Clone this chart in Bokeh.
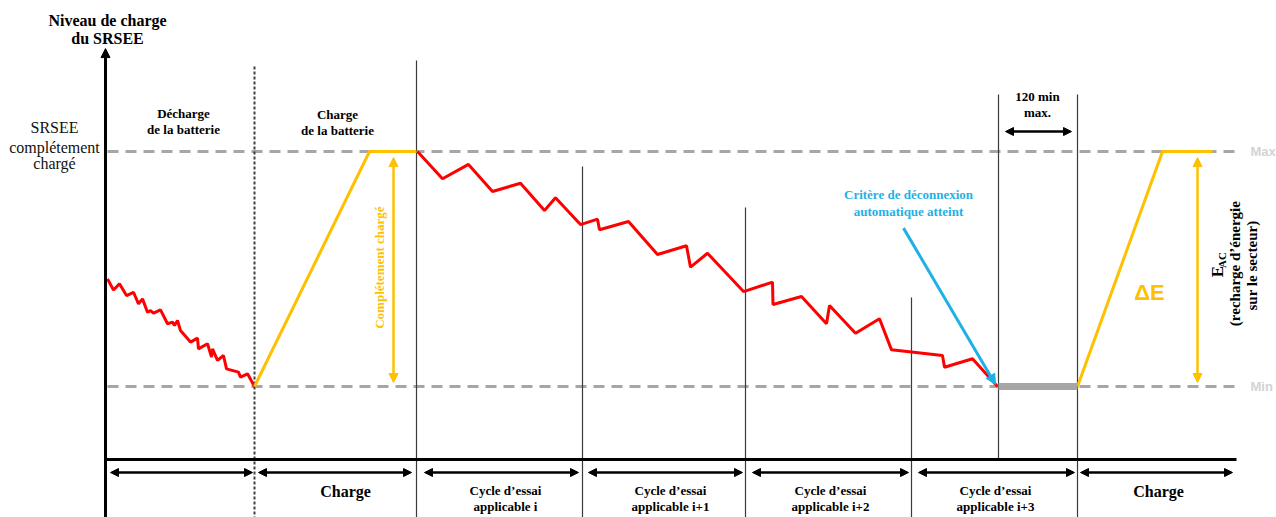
import math
from bokeh.plotting import figure
from bokeh.models import Range1d, ColumnDataSource, Arrow, NormalHead
from bokeh.core.properties import value
from bokeh.embed import file_html
from bokeh.resources import INLINE

# ---------------- data (time in arbitrary units, level: Min = 0, Max = 100) -------------
disch_t = [107, 113, 119, 126, 133, 138, 142, 147, 150, 153, 160, 167, 172, 174, 177, 180,
           190, 197, 198, 207, 211, 212, 217, 223, 226, 238, 240, 247, 254]
disch_lvl = [45.8, 41.1, 43.7, 38.7, 40.1, 35.2, 37.3, 31.6, 32.3, 31.2, 32.6, 26.7, 27.4, 26.0,
             28.1, 23.8, 18.9, 20.6, 16.0, 18.2, 12.5, 16.0, 11.1, 13.2, 7.5, 6.1, 4.0, 5.4, 0]

charge1_t = [254, 369, 416]
charge1_lvl = [0, 100, 100]

cycle_t = [417, 442, 468, 492, 520, 544, 555, 580, 597, 599, 628, 657, 686, 690, 707, 743,
           772, 772.5, 801, 826, 829, 855, 879, 891, 942, 944, 972, 997]
cycle_lvl = [100, 88.4, 94.5, 83.0, 86.5, 74.9, 80.3, 68.9, 71.2, 66.7, 70.2, 56.2, 59.9, 50.8,
             56.7, 40.4, 44.4, 34.9, 38.3, 26.7, 34.5, 22.7, 28.8, 15.6, 13.2, 8.2, 11.8, 0]

wait_t = [998, 1077]
wait_lvl = [0, 0]

charge2_t = [1077, 1162, 1212]
charge2_lvl = [0, 100, 100]

ref_levels = [0, 100]
ref_names = ["Min", "Max"]

boundary_t = [416, 582, 745, 911, 998, 1077]
boundary_top = [138.7, 93.6, 76.2, 37.9, 124.3, 124.3]
boundary_bottom = [-56, -56, -56, -56, -31.1, -56]

phase_start = [110, 258, 424, 588, 752, 918, 1080]
phase_end = [252, 411, 578, 742, 908, 1074, 1232]
phase_center = [181, 345, 505, 670, 830, 995, 1158]
phase_line1 = ["", "", "Cycle d’essai", "Cycle d’essai", "Cycle d’essai", "Cycle d’essai", ""]
phase_line2 = ["", "", "applicable i", "applicable i+1", "applicable i+2", "applicable i+3", ""]
phase_single = ["", "Charge", "", "", "", "", "Charge"]

# ---------------- colours ----------------
RED = "#FF0000"
ORANGE = "#FFC000"
BLUE = "#1FB0E6"
GREY = "#A6A6A6"
SERIF = value("Liberation Serif")
SANS = value("Liberation Sans")

p = figure(width=1276, height=517, x_range=Range1d(0, 1276), y_range=Range1d(-55.74, 164.26),
           output_backend="svg", toolbar_location=None, min_border=0,
           x_axis_location=None, y_axis_location=None)
p.grid.visible = False
p.outline_line_color = None
p.background_fill_color = "white"

# reference dashed lines Min / Max
for lv in ref_levels:
    p.line([107, 1236], [lv, lv], line_color=GREY, line_width=3, line_dash="11 7")
p.text(x=[1250, 1250], y=ref_levels, text=ref_names, text_font=SANS,
       text_font_style=value("bold"), text_font_size=value("13px"), text_color="#D3D3D3",
       text_align="left", text_baseline="middle")

# phase boundaries
p.segment(x0=[254], y0=[136.2], x1=[254], y1=[-56], line_color="#404040", line_width=2,
          line_dash="3 2")
p.segment(x0=boundary_t, y0=boundary_top, x1=boundary_t, y1=boundary_bottom,
          line_color="#3a3a3a", line_width=1.2)

# axes
p.segment(x0=[105], y0=[-31.1], x1=[1236], y1=[-31.1], line_color="black", line_width=3)
p.add_layout(Arrow(x_start=105, y_start=-58, x_end=105, y_end=143.8, line_color="black",
                   line_width=3, end=NormalHead(size=9, fill_color="black", line_color="black")))

# curves
p.line(disch_t, disch_lvl, line_color=RED, line_width=3)
p.line(cycle_t, cycle_lvl, line_color=RED, line_width=3)
p.line(charge1_t, charge1_lvl, line_color=ORANGE, line_width=3)
p.line(charge2_t, charge2_lvl, line_color=ORANGE, line_width=3)
p.line(wait_t, wait_lvl, line_color=GREY, line_width=7)

# phase arrows along the time axis
arr_src = ColumnDataSource(dict(x0=phase_start, x1=phase_end, y=[-36.6] * len(phase_start)))
p.add_layout(Arrow(source=arr_src, x_start="x0", y_start="y", x_end="x1", y_end="y",
                   line_color="black", line_width=2.5,
                   start=NormalHead(size=8, fill_color="black", line_color="black"),
                   end=NormalHead(size=8, fill_color="black", line_color="black")))

bold = value("bold")
p.text(x=phase_center, y=[-44.7] * 7, text=phase_single, text_font=SERIF, text_font_style=bold,
       text_font_size=value("16px"), text_color="black", text_align="center",
       text_baseline="middle")
p.text(x=phase_center, y=[-44.3] * 7, text=phase_line1, text_font=SERIF, text_font_style=bold,
       text_font_size=value("13px"), text_color="black", text_align="center",
       text_baseline="middle")
p.text(x=phase_center, y=[-51.1] * 7, text=phase_line2, text_font=SERIF, text_font_style=bold,
       text_font_size=value("13px"), text_color="black", text_align="center",
       text_baseline="middle")

# title of vertical axis
p.text(x=[107, 107], y=[155.7, 148.1], text=["Niveau de charge", "du SRSEE"], text_font=SERIF,
       text_font_style=bold, text_font_size=value("16px"), text_color="black",
       text_align="center", text_baseline="middle")
p.text(x=[54, 54, 54], y=[110.2, 101.7, 94.9], text=["SRSEE", "complétement", "chargé"],
       text_font=SERIF, text_font_size=value("16px"), text_color="#111111",
       text_align="center", text_baseline="middle")

# top labels
p.text(x=[183, 183, 337, 337, 1037, 1037], y=[116.2, 109.4, 115.7, 108.9, 123.4, 116.6],
       text=["Décharge", "de la batterie", "Charge", "de la batterie", "120 min", "max."],
       text_font=SERIF, text_font_style=bold, text_font_size=value("13px"), text_color="black",
       text_align="center", text_baseline="middle")
p.add_layout(Arrow(x_start=1005, y_start=108.5, x_end=1071, y_end=108.5, line_color="black",
                   line_width=2.5,
                   start=NormalHead(size=8, fill_color="black", line_color="black"),
                   end=NormalHead(size=8, fill_color="black", line_color="black")))

# fully charged arrows (orange)
for xa in [393, 1197]:
    p.add_layout(Arrow(x_start=xa, y_start=1.7, x_end=xa, y_end=97.4, line_color=ORANGE,
                       line_width=2.5,
                       start=NormalHead(size=9, fill_color=ORANGE, line_color=ORANGE),
                       end=NormalHead(size=9, fill_color=ORANGE, line_color=ORANGE)))
p.text(x=[379], y=[50.6], text=["Complétement chargé"], angle=math.pi / 2, text_font=SERIF,
       text_font_style=bold, text_font_size=value("13px"), text_color=ORANGE,
       text_align="center", text_baseline="middle")
p.text(x=[1149], y=[40.0], text=["ΔE"], text_font=SANS, text_font_style=bold,
       text_font_size=value("22px"), text_color=ORANGE, text_align="center",
       text_baseline="middle")

# E_AC label
p.text(x=[1217], y=[48.9], text=["E"], angle=math.pi / 2, text_font=SERIF,
       text_font_style=bold, text_font_size=value("17px"), text_color="black",
       text_align="center", text_baseline="middle")
p.text(x=[1221], y=[53.8], text=["AC"], angle=math.pi / 2, text_font=SERIF,
       text_font_style=bold, text_font_size=value("11px"), text_color="black",
       text_align="center", text_baseline="middle")
p.text(x=[1234, 1251], y=[52.3, 51.5], text=["(recharge d’énergie", "sur le secteur)"],
       angle=math.pi / 2, text_font=SERIF, text_font_style=bold,
       text_font_size=value("15px"), text_color="black", text_align="center",
       text_baseline="middle")

# automatic disconnection
p.add_layout(Arrow(x_start=903, y_start=67.4, x_end=995, y_end=0.9, line_color=BLUE,
                   line_width=3, end=NormalHead(size=10, fill_color=BLUE, line_color=BLUE)))
p.text(x=[908, 908], y=[81.7, 74.5], text=["Critère de déconnexion", "automatique atteint"],
       text_font=SERIF, text_font_style=bold, text_font_size=value("13px"), text_color=BLUE,
       text_align="center", text_baseline="middle")

open("out.html", "w").write(file_html(p, INLINE))
